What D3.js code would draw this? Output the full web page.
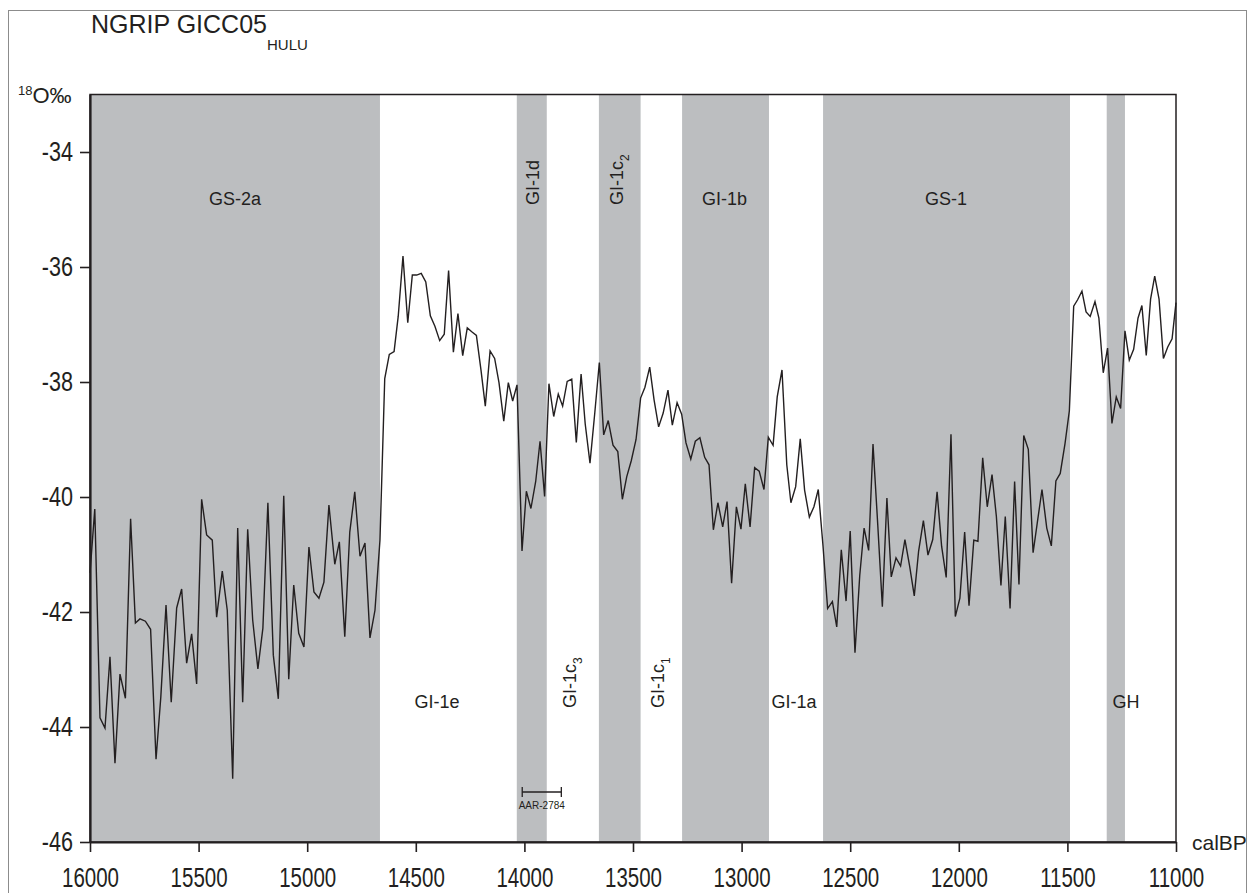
<!DOCTYPE html>
<html>
<head>
<meta charset="utf-8">
<script src="https://cdn.jsdelivr.net/npm/d3@7"></script>
<style>
body{margin:0;background:#fff;}
svg text{font-family:"Liberation Sans",Arial,Helvetica,sans-serif;fill:#231f20;}
</style>
</head>
<body>
<div class="draw"></div>
<script>
// NGRIP d18O on the GICC05 (Hulu adjusted) timescale
var years = [
    16000,15978,15954,15931,15908,15885,15862,15837,15813,15791,
    15770,15745,15721,15696,15674,15650,15626,15601,15578,15555,
    15532,15509,15486,15463,15437,15417,15391,15368,15343,15320,
    15297,15274,15251,15227,15204,15181,15156,15133,15108,15085,
    15062,15039,15015,14992,14969,14946,14923,14900,14873,14852,
    14827,14804,14781,14757,14734,14711,14688,14665,
    14643,14622,14600,14581,14559,14537,14516,14496,14475,14454,
    14433,14412,14390,14369,14349,14327,14306,14284,14263,14241,
    14221,14200,14180,14158,14137,14117,14095,14074,14054,14034,
    14011,13991,13970,13948,13928,13907,13887,13865,13844,13824,
    13803,13782,13761,13739,13720,13698,13676,13655,13635,13614,
    13592,13570,13549,13529,13508,13486,13465,13445,13423,13403,
    13382,13361,13339,13319,13297,13276,13256,13234,13213,13192,
    13170,13150,
    13130,13109,13087,13067,13046,13024,13003,12983,12961,12940,
    12919,12897,12877,12855,12836,12814,12792,12773,12751,12730,
    12710,12688,12667,12647,12625,12604,12582,12562,12541,12519,
    12500,12478,12456,12436,12415,12395,12373,12352,12331,12311,
    12289,12268,12248,12226,12205,12185,12163,12142,12120,12100,
    12079,12058,12036,12016,11995,11973,11953,11931,11912,11890,
    11869,11847,11827,11806,11786,11764,
    11743,11723,11701,11680,11658,11639,11617,11595,11574,11553,
    11533,11511,11491,11471,11453,11433,11414,11395,11373,11355,
    11335,11315,11295,11275,11255,11235,11215,11195,11175,11157,
    11137,11117,11098,11078,11058,11038,11018,11000
];

var d18O = [
    -41.32,-40.21,-43.84,-44.02,-42.78,-44.63,-43.08,-43.50,-40.38,-42.19,
    -42.12,-42.16,-42.30,-44.56,-43.48,-41.88,-43.57,-41.93,-41.60,-42.89,
    -42.38,-43.25,-40.04,-40.66,-40.75,-42.09,-41.29,-41.97,-44.90,-40.54,
    -43.57,-40.56,-42.14,-42.99,-42.28,-40.10,-42.75,-43.51,-39.98,-43.17,
    -41.53,-42.37,-42.61,-40.87,-41.65,-41.76,-41.48,-40.14,-41.17,-40.78,
    -42.43,-40.61,-39.91,-41.03,-40.80,-42.45,-41.97,-40.75,
    -37.94,-37.52,-37.47,-36.86,-35.81,-36.97,-36.14,-36.14,-36.11,-36.26,
    -36.85,-37.03,-37.28,-37.17,-36.06,-37.48,-36.81,-37.54,-37.06,-37.13,
    -37.19,-37.79,-38.42,-37.46,-37.59,-38.01,-38.68,-38.01,-38.33,-38.05,
    -40.94,-39.90,-40.20,-39.73,-39.03,-39.99,-38.03,-38.60,-38.21,-38.42,
    -37.99,-37.95,-39.05,-37.86,-38.73,-39.41,-38.54,-37.66,-38.92,-38.67,
    -39.10,-39.21,-40.04,-39.65,-39.37,-39.00,-38.28,-38.09,-37.74,-38.31,
    -38.78,-38.54,-38.14,-38.75,-38.36,-38.56,-39.06,-39.34,-39.03,-38.97,
    -39.31,-39.44,
    -40.57,-40.10,-40.52,-40.08,-41.50,-40.17,-40.56,-39.77,-40.52,-39.49,
    -39.55,-39.87,-38.96,-39.10,-38.26,-37.79,-39.44,-40.10,-39.82,-38.99,
    -39.88,-40.35,-40.17,-39.87,-40.86,-41.94,-41.82,-42.26,-40.92,-41.81,
    -40.59,-42.71,-41.36,-40.54,-40.93,-39.08,-40.49,-41.91,-40.02,-41.39,
    -41.06,-41.20,-40.74,-41.21,-41.72,-40.94,-40.41,-41.01,-40.74,-39.91,
    -40.86,-41.40,-38.91,-42.08,-41.76,-40.61,-41.89,-40.75,-40.77,-39.32,
    -40.17,-39.61,-40.34,-41.54,-40.34,-41.94,
    -39.73,-41.52,-38.93,-39.17,-40.97,-40.46,-39.87,-40.54,-40.85,-39.72,
    -39.59,-39.07,-38.50,-36.68,-36.57,-36.42,-36.78,-36.86,-36.60,-36.89,
    -37.84,-37.41,-38.72,-38.26,-38.46,-37.11,-37.62,-37.43,-36.89,-36.67,
    -37.54,-36.56,-36.16,-36.56,-37.59,-37.39,-37.25,-36.62
];

// stadial / short event shading (years BP)
var bandNames = ["GS-2a","GI-1d","GI-1c2","GI-1b","GS-1","GH"];
var bandStart = [16000,14035,13657,13274,12625,11319];
var bandEnd   = [14665,13897,13465,12874,11488,11235];

// event labels
var labelText = ["GS-2a","GI-1d","GI-1c","GI-1b","GS-1","GI-1e","GI-1c","GI-1c","GI-1a","GH"];
var labelSub  = ["","","2","","","","3","1","",""];
var labelYear = [15332,13963,13575,13079,12059,14402,13790,13385,12759,11230];
var labelRow  = ["top","top","top","top","top","bottom","bottom","bottom","bottom","bottom"];
var labelTurn = [false,true,true,false,false,false,true,true,false,false];

// radiocarbon sample AAR-2784
var aarName = "AAR-2784";
var aarYear = 13920;
var aarErr = 90;
var aarLevel = -45.13;

var xTicks = [16000,15500,15000,14500,14000,13500,13000,12500,12000,11500,11000];
var yTicks = [-34,-36,-38,-40,-42,-44,-46];

var width = 1253, height = 893;
var plot = {left:90, right:1176, top:94.5, bottom:842};
var rowY = {top:205, bottom:708};
var ink = "#231f20";

var svg = d3.select(".draw").append("svg")
    .attr("width", width)
    .attr("height", height);

svg.append("rect")
    .attr("x", 8.5).attr("y", 10.5)
    .attr("width", 1238).attr("height", 900)
    .attr("fill", "none")
    .attr("stroke", "#8c8c8c")
    .attr("stroke-width", 1);

var x = d3.scaleLinear().domain([16000, 11000]).range([plot.left, plot.right]);
var y = d3.scaleLinear().domain([-46, -33]).range([plot.bottom, plot.top]);

svg.selectAll(".band")
    .data(bandNames)
    .enter().append("rect")
    .attr("class", "band")
    .attr("x", function (d, i) { return x(bandStart[i]); })
    .attr("width", function (d, i) { return x(bandEnd[i]) - x(bandStart[i]); })
    .attr("y", y(-33))
    .attr("height", y(-46) - y(-33))
    .attr("fill", "#bcbec0");

// event labels
var labels = svg.selectAll(".lab")
    .data(labelText)
    .enter().append("text")
    .attr("class", "lab")
    .attr("font-size", 18)
    .attr("transform", function (d, i) {
        var px = x(labelYear[i]), py = rowY[labelRow[i]];
        return labelTurn[i] ? "translate(" + px + "," + py + ") rotate(-90)" : "translate(" + px + "," + py + ")";
    })
    .attr("text-anchor", function (d, i) { return labelTurn[i] ? "start" : "middle"; })
    .attr("dy", function (d, i) { return labelTurn[i] ? "0.36em" : 0; });
labels.append("tspan").text(function (d) { return d; });
labels.append("tspan")
    .attr("font-size", 12)
    .attr("dy", 6)
    .text(function (d, i) { return labelSub[i]; });

var line = d3.line()
    .x(function (d) { return x(d[0]); })
    .y(function (d) { return y(d[1]); });

svg.append("path")
    .datum(d3.zip(years, d18O))
    .attr("d", line)
    .attr("fill", "none")
    .attr("stroke", ink)
    .attr("stroke-width", 1.4)
    .attr("stroke-linejoin", "miter");

// AAR-2784 age range
var aarY = y(aarLevel);
var aar = svg.append("g").attr("stroke", ink).attr("stroke-width", 1.3);
aar.append("line").attr("x1", x(aarYear + aarErr)).attr("x2", x(aarYear - aarErr)).attr("y1", aarY).attr("y2", aarY);
aar.append("line").attr("x1", x(aarYear + aarErr)).attr("x2", x(aarYear + aarErr)).attr("y1", aarY - 5).attr("y2", aarY + 5);
aar.append("line").attr("x1", x(aarYear - aarErr)).attr("x2", x(aarYear - aarErr)).attr("y1", aarY - 5).attr("y2", aarY + 5);
svg.append("text")
    .attr("x", x(aarYear))
    .attr("y", aarY + 17)
    .attr("text-anchor", "middle")
    .attr("font-size", 10)
    .text(aarName);

// plot box
svg.append("rect")
    .attr("x", plot.left).attr("y", plot.top)
    .attr("width", plot.right - plot.left).attr("height", plot.bottom - plot.top)
    .attr("fill", "none")
    .attr("stroke", ink)
    .attr("stroke-width", 1.5);

var xaxis = d3.axisBottom(x)
    .tickValues(xTicks)
    .tickFormat(d3.format("d"))
    .tickSize(10)
    .tickSizeOuter(0)
    .tickPadding(16);

var yaxis = d3.axisLeft(y)
    .tickValues(yTicks)
    .tickFormat(function (d) { return "-" + Math.abs(d); })
    .tickSize(10)
    .tickSizeOuter(0)
    .tickPadding(7);

var gx = svg.append("g")
    .attr("transform", "translate(0," + plot.bottom + ")")
    .call(xaxis);
var gy = svg.append("g")
    .attr("transform", "translate(" + plot.left + ",0)")
    .call(yaxis);

[gx, gy].forEach(function (g) {
    g.attr("font-family", null).attr("font-size", 27);
    g.select(".domain").attr("stroke", ink).attr("stroke-width", 2.2);
    g.selectAll(".tick line").attr("stroke", ink).attr("stroke-width", 1.6);
    g.selectAll(".tick text").attr("fill", ink);
});
// the original tick lettering is a condensed face
gx.selectAll(".tick text").attr("transform", "scale(0.76,1)");
gy.selectAll(".tick text").attr("x", 0).attr("transform", "translate(-17,0) scale(0.8,1)");

svg.append("text")
    .attr("x", 1192).attr("y", 850)
    .attr("font-size", 21)
    .text("calBP");

var ylab = svg.append("text").attr("x", 18).attr("y", 103);
ylab.append("tspan").attr("font-size", 13).attr("dy", -8).text("18");
ylab.append("tspan").attr("font-size", 22).attr("dy", 8).text("O\u2030");

var title = svg.append("text").attr("x", 91).attr("y", 33).attr("font-size", 25);
title.append("tspan").text("NGRIP GICC05");
title.append("tspan").attr("font-size", 15).attr("dy", 17).text("HULU");
</script>
</body>
</html>
